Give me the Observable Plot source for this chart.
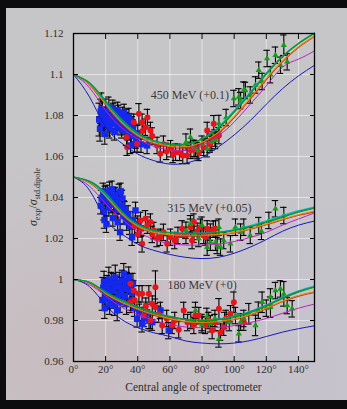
<!DOCTYPE html>
<html><head><meta charset="utf-8">
<script src="https://cdn.jsdelivr.net/npm/d3@7"></script>
<script src="https://cdn.jsdelivr.net/npm/@observablehq/plot@0.6"></script>
<style>
html,body{margin:0;padding:0;background:#0c0b0d;width:347px;height:409px;overflow:hidden;}
#panel{position:absolute;left:6px;top:8px;width:341px;height:392px;
background:
 radial-gradient(ellipse at 15% 90%, rgba(205,160,168,0.28), rgba(205,160,168,0) 45%),
 radial-gradient(ellipse at 85% 95%, rgba(195,180,212,0.25), rgba(195,180,212,0) 50%),
 radial-gradient(ellipse at 55% 82%, rgba(208,178,186,0.18), rgba(208,178,186,0) 40%),
 #c6c6c9;}
#chart{position:absolute;left:0;top:0;}
</style></head><body><div id="panel"></div><div id="chart"></div>
<script>
// ---- data ----
const angles = [0,10,20,30,40,50,60,70,80,90,100,110,120,130,140,150];
const xTicks = [0,20,40,60,80,100,120,140];
const yTicks = [0.96,0.98,1.00,1.02,1.04,1.06,1.08,1.10,1.12];

// model curves, 450 MeV (+0.1)
const m450Green  = [1.100,1.0958,1.0868,1.0778,1.0712,1.0676,1.0658,1.0657,1.0683,1.0735,1.0815,1.0905,1.1000,1.1085,1.1150,1.1200];
const m450Teal   = [1.100,1.0960,1.0872,1.0782,1.0715,1.0678,1.0660,1.0660,1.0686,1.0740,1.0820,1.0910,1.1005,1.1088,1.1152,1.1202];
const m450Cyan   = [1.100,1.0955,1.0862,1.0772,1.0708,1.0673,1.0657,1.0658,1.0686,1.0742,1.0825,1.0915,1.1008,1.1090,1.1153,1.1203];
const m450Orange = [1.100,1.0952,1.0855,1.0765,1.0702,1.0667,1.0650,1.0648,1.0670,1.0718,1.0795,1.0885,1.0980,1.1065,1.1135,1.1188];
const m450Red    = [1.100,1.0950,1.0850,1.0760,1.0697,1.0662,1.0645,1.0642,1.0664,1.0712,1.0790,1.0880,1.0975,1.1062,1.1132,1.1185];
const m450Magenta= [1.100,1.0935,1.0825,1.0740,1.0685,1.0650,1.0632,1.0630,1.0655,1.0700,1.0768,1.0855,1.0945,1.1035,1.1075,1.1115];
const m450Blue   = [1.100,1.0890,1.0745,1.0665,1.0612,1.0580,1.0563,1.0568,1.0595,1.0645,1.0705,1.0775,1.0855,1.0930,1.0993,1.1045];
// 315 MeV (+0.05)
const m315Green  = [1.050,1.0478,1.0418,1.0330,1.0268,1.0238,1.0227,1.0224,1.0224,1.0228,1.0238,1.0256,1.0278,1.0303,1.0328,1.0348];
const m315Teal   = [1.050,1.0480,1.0422,1.0334,1.0270,1.0240,1.0229,1.0226,1.0226,1.0230,1.0241,1.0259,1.0282,1.0307,1.0332,1.0351];
const m315Cyan   = [1.050,1.0476,1.0412,1.0325,1.0265,1.0237,1.0228,1.0226,1.0227,1.0232,1.0244,1.0263,1.0287,1.0312,1.0336,1.0354];
const m315Orange = [1.050,1.0474,1.0408,1.0320,1.0260,1.0230,1.0219,1.0216,1.0216,1.0220,1.0230,1.0248,1.0270,1.0294,1.0316,1.0333];
const m315Red    = [1.050,1.0472,1.0404,1.0316,1.0256,1.0226,1.0215,1.0212,1.0212,1.0216,1.0227,1.0245,1.0267,1.0291,1.0313,1.0330];
const m315Magenta= [1.050,1.0455,1.0370,1.0295,1.0235,1.0195,1.0175,1.0168,1.0168,1.0172,1.0185,1.0205,1.0230,1.0265,1.0295,1.0325];
const m315Blue   = [1.050,1.0435,1.0295,1.0222,1.0172,1.0142,1.0122,1.0108,1.0102,1.0108,1.0128,1.0158,1.0195,1.0235,1.0265,1.0285];
// 180 MeV (+0)
const m180Green  = [1.000,0.9986,0.9938,0.9897,0.9864,0.9837,0.9817,0.9803,0.9798,0.9803,0.9815,0.9838,0.9870,0.9906,0.9938,0.9962];
const m180Teal   = [1.000,0.9987,0.9941,0.9900,0.9867,0.9840,0.9820,0.9806,0.9801,0.9806,0.9819,0.9842,0.9874,0.9910,0.9942,0.9965];
const m180Cyan   = [1.000,0.9985,0.9936,0.9895,0.9863,0.9837,0.9818,0.9805,0.9801,0.9807,0.9821,0.9845,0.9877,0.9913,0.9945,0.9968];
const m180Orange = [1.000,0.9984,0.9932,0.9889,0.9856,0.9829,0.9809,0.9795,0.9790,0.9795,0.9807,0.9829,0.9860,0.9894,0.9922,0.9940];
const m180Red    = [1.000,0.9983,0.9929,0.9886,0.9853,0.9826,0.9806,0.9792,0.9787,0.9792,0.9804,0.9826,0.9857,0.9891,0.9919,0.9937];
const m180Magenta= [1.000,0.9975,0.9920,0.9865,0.9830,0.9800,0.9780,0.9768,0.9765,0.9767,0.9775,0.9790,0.9810,0.9835,0.9860,0.9880];
const m180Blue   = [1.000,0.9965,0.9875,0.9805,0.9765,0.9740,0.9722,0.9700,0.9690,0.9686,0.9690,0.9702,0.9722,0.9743,0.9760,0.9774];

// measurements [angle, value, error]
const blue450 = [[16,1.078,0.008],[16.5,1.0735,0.006],[17,1.082,0.006],[17.5,1.083,0.008],[18,1.080,0.007],[18.5,1.077,0.005],[19,1.076,0.005],[19.5,1.071,0.005],[20,1.082,0.006],[20.5,1.079,0.005],[21,1.078,0.005],[21.5,1.075,0.005],[22,1.084,0.005],[22.5,1.074,0.005],[23,1.080,0.004],[23.5,1.0775,0.004],[24,1.076,0.004],[24.5,1.0835,0.004],[25,1.082,0.004],[25.5,1.072,0.004],[26,1.079,0.004],[26.5,1.0765,0.004],[27,1.075,0.004],[27.5,1.0825,0.004],[28,1.081,0.004],[28.5,1.0785,0.004],[29,1.077,0.004],[29.5,1.0745,0.004],[30,1.073,0.004],[30.5,1.080,0.004],[31,1.078,0.004],[31.5,1.0815,0.004],[32,1.075,0.004],[32.5,1.0775,0.004],[33,1.079,0.004],[33.5,1.0745,0.004],[34,1.072,0.004],[34.5,1.0795,0.004],[35,1.077,0.004],[35.5,1.0654,0.004],[36,1.070,0.004],[36.5,1.0755,0.004],[37,1.074,0.004],[37.5,1.0705,0.004],[38,1.066,0.004],[39,1.068,0.004],[40,1.0712,0.004],[42,1.066,0.004],[45.8,1.0654,0.004]];
const red450 = [[33,1.0694,0.004],[33.4,1.0645,0.004],[37.5,1.0767,0.004],[39.6,1.0662,0.004],[40.7,1.0808,0.005],[42.7,1.0767,0.004],[43,1.0725,0.004],[44.8,1.0743,0.004],[46,1.0790,0.004],[47.9,1.0727,0.004],[49,1.0700,0.004],[52,1.0654,0.004],[54,1.0613,0.004],[56,1.0660,0.004],[58,1.0625,0.004],[60.4,1.0638,0.004],[62,1.0610,0.004],[63.5,1.0621,0.004],[66,1.0620,0.004],[68,1.0605,0.004],[70.7,1.0605,0.004],[73,1.0630,0.004],[75.9,1.0638,0.004],[78,1.0620,0.004],[81,1.0645,0.004],[83.2,1.0727,0.004],[85,1.0660,0.004],[87.3,1.0760,0.004],[88,1.0690,0.004],[90.5,1.0702,0.004]];
const green450 = [[70,1.0670,0.004],[72.8,1.0694,0.004],[75,1.0640,0.004],[77,1.0629,0.004],[80,1.0660,0.004],[83.2,1.0638,0.004],[86,1.0670,0.004],[88.4,1.0678,0.004],[90.5,1.0761,0.004],[95,1.0790,0.004],[99.8,1.0883,0.004],[102.9,1.0891,0.004],[104,1.0873,0.004],[106,1.0924,0.004],[107,1.0922,0.004],[110,1.0900,0.004],[113.3,1.0949,0.004],[115.3,1.1021,0.004],[117.4,1.0966,0.004],[120.5,1.1078,0.004],[122.6,1.0999,0.004],[125.7,1.1094,0.004],[128.8,1.1045,0.004],[130.9,1.1143,0.005],[133,1.1062,0.004]];

const blue315 = [[17,1.036,0.004],[17.5,1.0395,0.004],[18,1.040,0.004],[18.5,1.043,0.004],[19,1.033,0.004],[19.3,1.029,0.004],[19.8,1.0415,0.004],[20,1.038,0.004],[20.5,1.027,0.004],[21,1.042,0.004],[21.5,1.0385,0.004],[22,1.035,0.004],[22.5,1.0435,0.004],[23,1.040,0.004],[23.5,1.0365,0.004],[24,1.044,0.004],[24.5,1.030,0.004],[25,1.037,0.004],[25.5,1.0405,0.004],[26,1.041,0.004],[26.5,1.0375,0.004],[27,1.034,0.004],[27.5,1.028,0.004],[28,1.039,0.004],[28.5,1.0425,0.004],[29,1.0231,0.004],[29.5,1.043,0.004],[30,1.036,0.004],[30.5,1.0395,0.004],[31,1.031,0.004],[31.5,1.0345,0.004],[32,1.034,0.004],[33,1.028,0.004],[34,1.032,0.004],[35,1.026,0.004],[36.5,1.0206,0.004],[37,1.029,0.004],[38.6,1.0337,0.004],[40,1.027,0.004],[42,1.025,0.004]];
const red315 = [[38,1.0260,0.004],[40,1.0220,0.004],[41.7,1.0288,0.004],[41.7,1.0247,0.004],[42.7,1.0174,0.004],[44.8,1.0296,0.004],[46,1.0265,0.004],[47.9,1.0280,0.004],[49,1.0220,0.004],[50,1.0239,0.004],[52,1.0200,0.004],[54.1,1.0206,0.004],[56,1.0230,0.004],[58.3,1.0174,0.004],[60.4,1.0206,0.004],[63,1.0190,0.004],[65,1.0215,0.004],[67.6,1.0247,0.004],[70,1.0215,0.004],[72.8,1.0255,0.004],[73.8,1.0190,0.004],[74.9,1.0280,0.004],[77,1.0235,0.004],[79,1.0255,0.004],[81,1.0215,0.004],[82.1,1.0206,0.004],[83.2,1.0247,0.004],[85.2,1.0231,0.004],[87,1.0245,0.004],[88.4,1.0247,0.004]];
const green315 = [[70,1.0240,0.004],[72.8,1.0272,0.004],[75,1.0220,0.004],[78,1.0200,0.004],[80,1.0265,0.004],[83.2,1.0158,0.004],[85.2,1.0182,0.004],[88.4,1.0182,0.004],[90.5,1.0255,0.004],[89.4,1.0166,0.004],[91.5,1.0158,0.004],[93.5,1.0190,0.004],[97.7,1.0174,0.004],[100.8,1.0255,0.004],[104,1.0231,0.004],[106,1.0255,0.004],[110,1.0215,0.004],[115.3,1.0263,0.004],[117,1.0235,0.004],[121.6,1.0288,0.004],[125.7,1.0345,0.004],[130.9,1.0312,0.004]];

const blue180 = [[18,0.990,0.005],[18.5,0.996,0.005],[19,0.999,0.005],[19.5,0.986,0.005],[20,0.993,0.005],[20.5,0.9955,0.005],[21,0.997,0.005],[21.5,0.9905,0.005],[22,1.000,0.006],[22.5,0.988,0.005],[23,0.995,0.005],[23.5,0.9985,0.005],[24,0.991,0.005],[24.5,0.9945,0.005],[25,0.998,0.005],[25.5,0.9875,0.005],[26,1.001,0.006],[26.5,0.9965,0.005],[27.2,0.9849,0.005],[27.5,0.9905,0.005],[28,0.993,0.005],[28.5,0.9985,0.005],[29,0.989,0.005],[29.5,0.9935,0.005],[30,0.996,0.005],[30.5,0.9995,0.005],[31.3,1.0028,0.005],[32,0.992,0.005],[32.5,0.9955,0.005],[33,0.988,0.005],[33.5,0.9985,0.005],[34.4,1.0011,0.005],[35,0.995,0.005],[36,0.990,0.005],[36.5,0.9935,0.005],[37,0.998,0.005],[38,0.986,0.004],[39.6,0.9808,0.004],[41,0.984,0.004],[42.7,0.9784,0.004],[44,0.981,0.004],[45.8,0.984,0.004],[47,0.980,0.004],[49,0.9792,0.004],[54.1,0.9849,0.004],[59.3,0.9751,0.004]];
const red180 = [[35.5,0.9979,0.005],[35.5,0.9889,0.005],[37.5,0.9946,0.005],[38,0.9900,0.004],[40.7,0.9930,0.004],[42.7,0.9930,0.004],[43.7,0.9824,0.004],[45,0.9870,0.004],[46.9,0.9930,0.004],[47.9,0.9800,0.004],[49,0.9880,0.004],[51,0.9962,0.008],[51,0.9865,0.004],[53,0.9830,0.004],[55.2,0.9776,0.004],[58,0.9810,0.004],[61.4,0.9776,0.004],[63,0.9800,0.004],[65.5,0.9755,0.004],[68.6,0.9849,0.004],[71,0.9790,0.004],[74.9,0.9776,0.004],[75.9,0.9824,0.004],[78,0.9824,0.004],[80,0.9790,0.004],[82.1,0.9776,0.004],[84.2,0.9800,0.004],[86.3,0.9751,0.004],[88,0.9790,0.004],[90.5,0.9857,0.005],[91.5,0.9743,0.004],[93.5,0.9767,0.004],[95,0.9810,0.004],[97.7,0.9833,0.004],[99.8,0.9889,0.005],[106,0.9792,0.004]];
const green180 = [[73,0.9800,0.004],[75.9,0.9849,0.004],[80,0.9780,0.004],[83,0.9820,0.004],[85.2,0.9784,0.004],[88,0.9810,0.004],[90.5,0.9710,0.004],[94,0.9800,0.004],[97,0.9790,0.004],[100.8,0.9824,0.004],[102.9,0.9735,0.004],[104,0.9792,0.004],[106,0.9810,0.004],[109.1,0.9833,0.005],[113.3,0.9776,0.005],[115,0.9850,0.004],[117.4,0.9889,0.005],[120,0.9860,0.004],[122.6,0.9865,0.005],[122.6,0.9915,0.004],[125.7,0.9946,0.004],[128.8,0.9954,0.004],[130.9,0.9930,0.006],[133,0.9873,0.004],[136.1,0.9857,0.004]];

const annotations = [
  {label:"450 MeV (+0.1)", angle:72.5, value:1.0898},
  {label:"315 MeV (+0.05)", angle:84.6, value:1.0350},
  {label:"180 MeV (+0)", angle:80.0, value:0.9971}
];

// ---- build tables ----
const modelDefs = [
  {color:"#c020c0", s:[m450Magenta,m315Magenta,m180Magenta], w:1},
  {color:"#1818b8", s:[m450Blue,m315Blue,m180Blue], w:1},
  {color:"#b83010", s:[m450Red,m315Red,m180Red], w:1.1},
  {color:"#f08010", s:[m450Orange,m315Orange,m180Orange], w:1.1},
  {color:"#10c0c8", s:[m450Cyan,m315Cyan,m180Cyan], w:1.1},
  {color:"#108878", s:[m450Teal,m315Teal,m180Teal], w:1.1},
  {color:"#109a10", s:[m450Green,m315Green,m180Green], w:1.1}
];
const curveRows = [];
modelDefs.forEach((m,i)=>m.s.forEach((arr,g)=>arr.forEach((v,k)=>curveRows.push({a:angles[k], v, key:i+"-"+g}))));
const toRows = arr => arr.map(([a,v,e])=>({a,v,e}));
const blues = [blue450,blue315,blue180].flatMap(toRows);
const reds = [red450,red315,red180].flatMap(toRows);
const greens = [green450,green315,green180].flatMap(toRows);
const allPts = [...blues,...reds,...greens];

const capHalf = 2.0;
const fmtY = d => String(+d.toFixed(2));
const plot = Plot.plot({
  width:347, height:409,
  marginLeft:73, marginRight:33, marginTop:33, marginBottom:48,
  x:{domain:[0,150]},
  y:{domain:[0.96,1.12]},
  style:{background:"transparent", fontFamily:"'Liberation Serif', serif", fontSize:"11px", color:"#2e2e2e", overflow:"visible"},
  marks:[
    Plot.gridX(xTicks.slice(1), {stroke:"#ffffff", strokeOpacity:0.5, strokeWidth:1}),
    Plot.gridY(yTicks.slice(1,-1), {stroke:"#ffffff", strokeOpacity:0.5, strokeWidth:1}),
    Plot.ruleX(allPts, {x:"a", y1:d=>d.v-d.e, y2:d=>d.v+d.e, stroke:"#000", strokeWidth:1.1}),
    Plot.ruleY(allPts, {y:d=>d.v+d.e, x1:d=>d.a-capHalf, x2:d=>d.a+capHalf, stroke:"#000", strokeWidth:1.1}),
    Plot.ruleY(allPts, {y:d=>d.v-d.e, x1:d=>d.a-capHalf, x2:d=>d.a+capHalf, stroke:"#000", strokeWidth:1.1}),
    Plot.dot(blues, {x:"a", y:"v", symbol:"square", r:3.6, fill:"#1428ee", stroke:"none"}),
    Plot.dot(reds, {x:"a", y:"v", r:3, fill:"#e8141a", stroke:"none"}),
    Plot.dot(greens, {x:"a", y:"v", symbol:"triangle", r:2.3, fill:"#169c16", stroke:"none"}),
    ...modelDefs.map((m,i)=>Plot.line(curveRows.filter(r=>r.key.startsWith(i+"-")), {x:"a", y:"v", z:"key", stroke:m.color, strokeWidth:m.w, curve:"natural"})),
    Plot.text(annotations, {x:"angle", y:"value", text:"label", fontSize:12, fill:"#3a3a3a", fontFamily:"'Liberation Serif', serif"}),
    Plot.frame({stroke:"#000", strokeWidth:1.3}),
    Plot.axisX(xTicks, {anchor:"bottom", tickSize:-5, tickPadding:9, tickFormat:d=>d+"°", label:null, stroke:"#000"}),
    Plot.axisX(xTicks, {anchor:"top", tickSize:-5, tickFormat:()=>"", label:null, stroke:"#000"}),
    Plot.axisY(yTicks, {anchor:"left", tickSize:-5, tickPadding:15, tickFormat:fmtY, label:null, stroke:"#000"}),
    Plot.axisY(yTicks, {anchor:"right", tickSize:-5, tickFormat:()=>"", label:null, stroke:"#000"})
  ]
});
document.getElementById("chart").appendChild(plot);

// axis titles
const svg = d3.select(plot);
const xs = plot.scale("x").range, ys = plot.scale("y").range;
svg.append("text").attr("x",(xs[0]+xs[1])/2).attr("y",ys[0]+30)
  .attr("text-anchor","middle").attr("font-family","'Liberation Serif', serif").attr("font-size",11.5).attr("fill","#2e2e2e")
  .text("Central angle of spectrometer");
const yl = svg.append("text").attr("transform",`translate(37,${(ys[0]+ys[1])/2}) rotate(-90)`)
  .attr("text-anchor","middle").attr("font-family","'Liberation Serif', serif").attr("font-size",12).attr("fill","#2e2e2e");
yl.append("tspan").attr("font-style","italic").text("σ");
yl.append("tspan").attr("font-size",8).attr("dy",3).text("exp");
yl.append("tspan").attr("dy",-3).text("/");
yl.append("tspan").attr("font-style","italic").text("σ");
yl.append("tspan").attr("font-size",8).attr("dy",3).text("std.dipole");
</script></body></html>
